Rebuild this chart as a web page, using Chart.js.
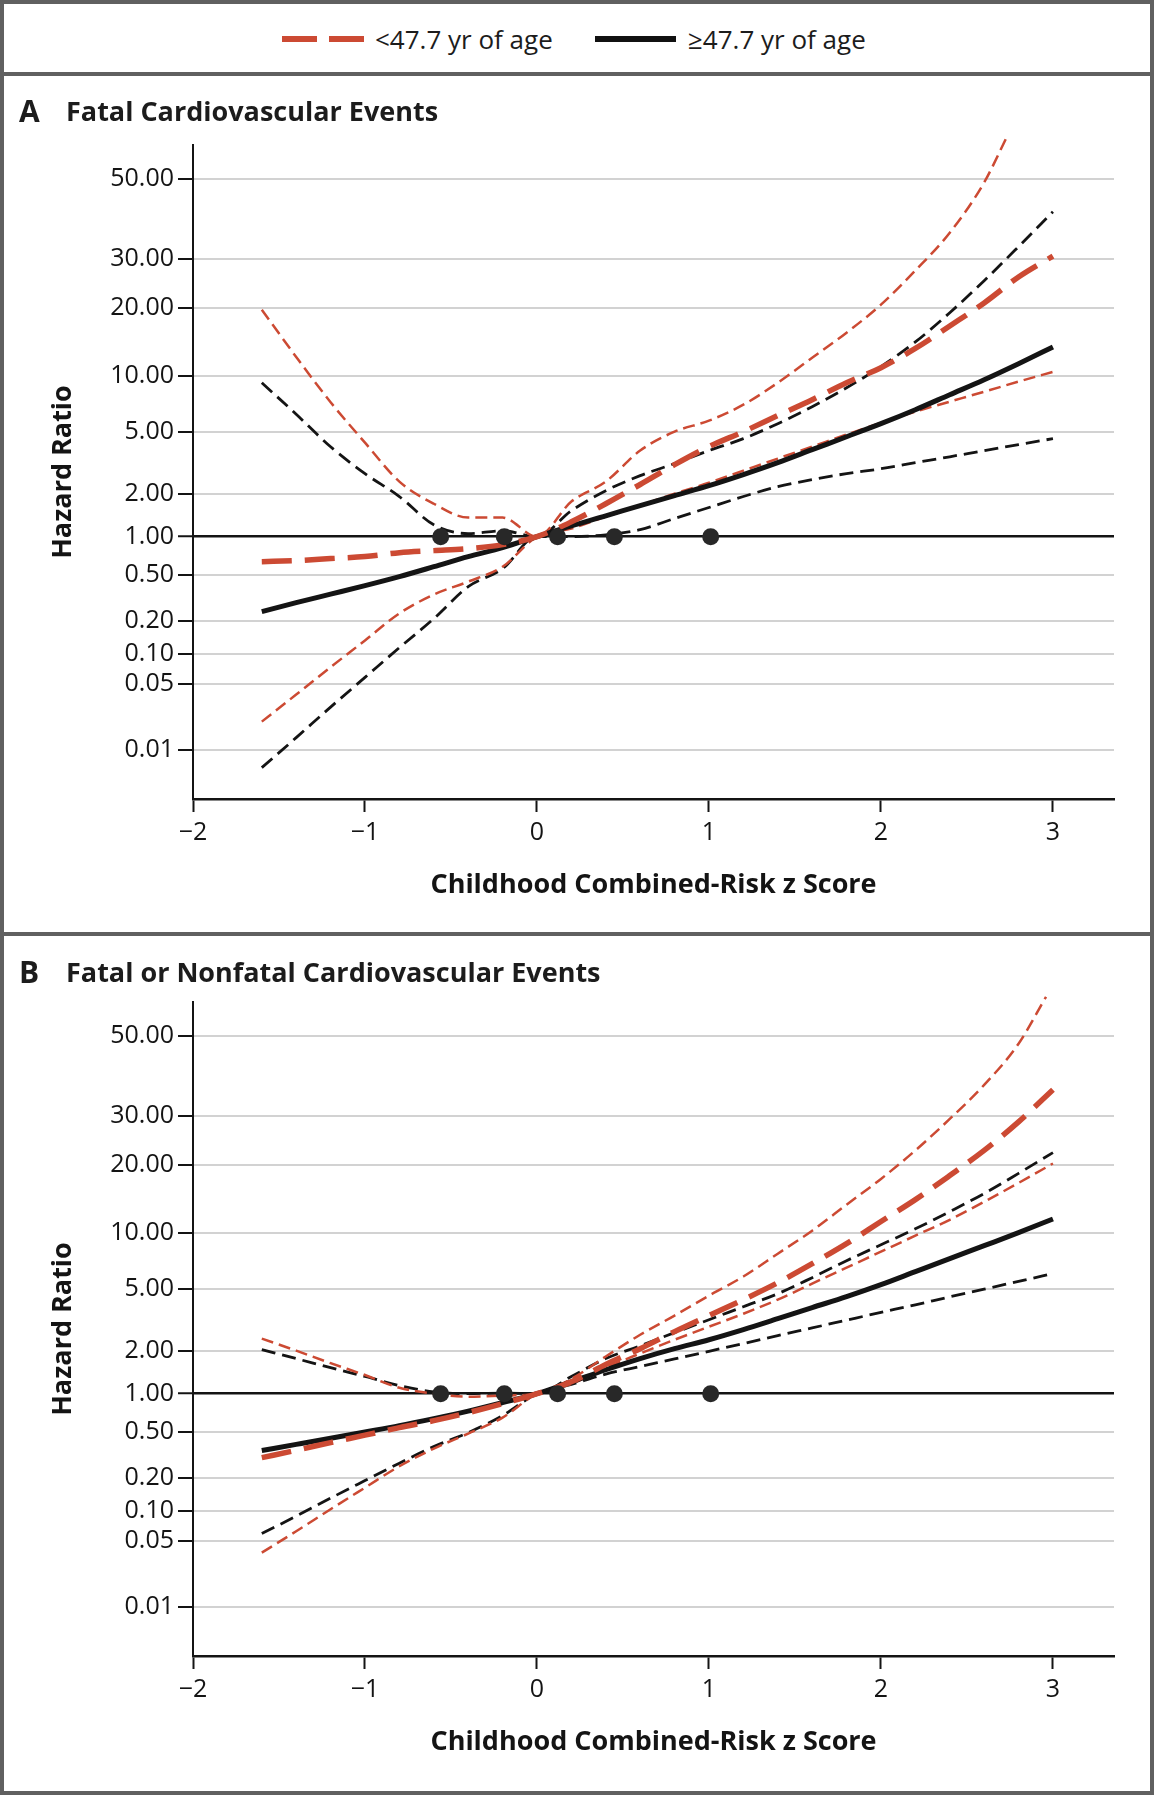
<!DOCTYPE html>
<html>
<head>
<meta charset="utf-8">
<script src="https://cdn.jsdelivr.net/npm/chart.js@4.4.1/dist/chart.umd.min.js"></script>
<style>
  html, body { margin: 0; padding: 0; background: #fff; }
  #figure { position: relative; width: 1154px; height: 1795px; background: #fff; overflow: hidden;
            font-family: 'Open Sans', sans-serif; color: #1c1c1c; }
  .frame { position: absolute; left: 0; width: 1154px; box-sizing: border-box; border: 4px solid #606060; }
  .key { position: absolute; top: 35px; }
  .key-text { position: absolute; top: 24px; font-size: 26px; line-height: 30px; white-space: nowrap; }
  .panel-letter { position: absolute; left: 19px; font-size: 30px; line-height: 32px; font-weight: 700; }
  .panel-title { position: absolute; left: 66px; font-size: 27px; line-height: 32px; font-weight: 700; white-space: nowrap; }
  canvas { position: absolute; left: 0; }
</style>
</head>
<body>
<div id="figure">
  <canvas id="panel_a" width="1154" height="856" style="top:76px"></canvas>
  <canvas id="panel_b" width="1154" height="856" style="top:933px"></canvas>

  <div class="frame" style="top:0; height:76px"></div>
  <div class="frame" style="top:72px; height:864px"></div>
  <div class="frame" style="top:932px; height:863px"></div>

  <svg class="key" style="left:282px" width="82" height="8">
    <line x1="0" y1="4" x2="82" y2="4" stroke="#cc4a33" stroke-width="6" stroke-dasharray="35 12"></line>
  </svg>
  <span class="key-text" style="left:375px">&lt;47.7 yr of age</span>
  <svg class="key" style="left:595px" width="81" height="8">
    <line x1="0" y1="4" x2="81" y2="4" stroke="#111" stroke-width="6"></line>
  </svg>
  <span class="key-text" style="left:688px">≥47.7 yr of age</span>

  <span class="panel-letter" style="top:95px">A</span>
  <span class="panel-title" style="top:95px">Fatal Cardiovascular Events</span>
  <span class="panel-letter" style="top:956px">B</span>
  <span class="panel-title" style="top:956px">Fatal or Nonfatal Cardiovascular Events</span>
</div>

<script>
// hazard-ratio axis, as printed (ticks are unevenly spaced)
const hrTickValues = [0.01, 0.05, 0.1, 0.2, 0.5, 1, 2, 5, 10, 20, 30, 50];
const hrTickLabels = ['0.01', '0.05', '0.10', '0.20', '0.50', '1.00', '2.00', '5.00', '10.00', '20.00', '30.00', '50.00'];
const hrTickSpacing = [-213, -147, -117, -84, -38, 0, 43, 105, 161, 229, 278, 358];

const zTicks = [-2, -1, 0, 1, 2, 3];
const zTickLabels = ['\u22122', '\u22121', '0', '1', '2', '3'];

const zGrid = [-1.6, -1.4, -1.2, -1.0, -0.8, -0.6, -0.4, -0.2, 0, 0.2, 0.4, 0.6, 0.8, 1.0,
  1.2, 1.4, 1.6, 1.8, 2.0, 2.2, 2.4, 2.6, 2.8, 3.0];

// knots marked on the 1.00 line
const knotZ = [-0.56, -0.19, 0.12, 0.45, 1.01];

// Panel A, fatal events
const youngA = [0.634, 0.646, 0.67, 0.695, 0.747, 0.775, 0.804, 0.865, 1.0, 1.27, 1.70, 2.29, 3.07, 4.01,
  5.0, 6.10, 7.43, 9.16, 10.85, 13.2, 16.6, 20.8, 25.8, 30.5];
const youngLowA = [0.0198, 0.0383, 0.0732, 0.132, 0.231, 0.336, 0.435, 0.578, 1.0, 1.14, 1.38, 1.65, 2.0, 2.35,
  2.81, 3.36, 4.01, 4.79, 5.58, 6.41, 7.25, 8.2, 9.29, 10.4];
const youngHighZA = [-1.6, -1.4, -1.2, -1.0, -0.8, -0.6, -0.4, -0.2, 0, 0.2, 0.4, 0.6, 0.8, 1.0,
  1.2, 1.4, 1.6, 1.8, 2.0, 2.2, 2.4, 2.6, 2.73];
const youngHighA = [19.6, 12.1, 7.2, 4.25, 2.39, 1.7, 1.36, 1.36, 1.0, 1.76, 2.39, 3.78, 5.0, 5.73,
  6.98, 9.16, 12.0, 15.5, 20.5, 27.2, 35.4, 48.8, 65];
const oldA = [0.239, 0.286, 0.339, 0.402, 0.481, 0.578, 0.695, 0.818, 1.0, 1.19, 1.40, 1.65, 1.94, 2.25,
  2.65, 3.16, 3.83, 4.64, 5.52, 6.56, 7.90, 9.51, 11.3, 13.4];
const oldLowA = [0.00644, 0.0134, 0.0282, 0.0578, 0.1135, 0.208, 0.394, 0.558, 1.0, 1.0, 1.03, 1.12, 1.34, 1.60,
  1.91, 2.22, 2.46, 2.69, 2.89, 3.16, 3.45, 3.78, 4.13, 4.51];
const oldHighA = [9.16, 6.2, 4.0, 2.69, 1.91, 1.21, 1.05, 1.10, 1.0, 1.52, 2.09, 2.61, 3.12, 3.78,
  4.51, 5.52, 6.81, 8.61, 10.96, 14.1, 19.0, 25.0, 32.4, 40.5];

// Panel B, fatal or nonfatal events
const youngB = [0.298, 0.345, 0.402, 0.466, 0.538, 0.611, 0.707, 0.833, 1.0, 1.21, 1.60, 2.06, 2.65, 3.36,
  4.25, 5.38, 6.81, 8.73, 11.2, 14.0, 17.9, 22.5, 28.5, 35.4];
const youngLowB = [0.0373, 0.0621, 0.103, 0.162, 0.251, 0.357, 0.481, 0.646, 1.0, 1.17, 1.52, 1.91, 2.35, 2.85,
  3.45, 4.25, 5.32, 6.49, 7.90, 9.64, 11.4, 13.7, 16.6, 20.2];
const youngHighZB = [-1.6, -1.4, -1.2, -1.0, -0.8, -0.6, -0.4, -0.2, 0, 0.2, 0.4, 0.6, 0.8, 1.0,
  1.2, 1.4, 1.6, 1.8, 2.0, 2.2, 2.4, 2.6, 2.8, 2.96];
const youngHighB = [2.39, 2.0, 1.635, 1.35, 1.10, 1.0, 0.947, 0.964, 1.0, 1.27, 1.82, 2.53, 3.36, 4.51,
  5.81, 7.71, 10.2, 13.3, 17.3, 22.5, 29.2, 36.5, 47.5, 64.1];
const oldB = [0.343, 0.388, 0.439, 0.497, 0.558, 0.634, 0.727, 0.849, 1.0, 1.21, 1.47, 1.76, 2.06, 2.35,
  2.73, 3.21, 3.78, 4.44, 5.25, 6.17, 7.25, 8.51, 10.0, 11.5];
const oldLowB = [0.0588, 0.0881, 0.130, 0.188, 0.267, 0.371, 0.490, 0.670, 1.0, 1.16, 1.37, 1.55, 1.75, 1.98,
  2.22, 2.5, 2.8, 3.14, 3.52, 3.94, 4.43, 4.96, 5.47, 6.02];
const oldHighB = [2.03, 1.76, 1.52, 1.32, 1.14, 1.03, 1.0, 1.01, 1.0, 1.32, 1.76, 2.15, 2.61, 3.16,
  3.83, 4.64, 5.73, 7.07, 8.61, 10.4, 12.4, 14.9, 18.3, 22.1];

const RED = '#cc4a33';
const INK = '#141414';
const FONT = 'Open Sans';

const tickLogs = hrTickValues.map((v) => Math.log10(v));

const to_axis = (hr) => {
  const lg = Math.log10(hr);
  let i = 0;
  while (i < tickLogs.length - 2 && lg > tickLogs[i + 1]) i++;
  const t = (lg - tickLogs[i]) / (tickLogs[i + 1] - tickLogs[i]);
  return hrTickSpacing[i] + t * (hrTickSpacing[i + 1] - hrTickSpacing[i]);
};

const from_axis = (u) => {
  let i = 0;
  while (i < hrTickSpacing.length - 2 && u > hrTickSpacing[i + 1]) i++;
  const t = (u - hrTickSpacing[i]) / (hrTickSpacing[i + 1] - hrTickSpacing[i]);
  return Math.pow(10, tickLogs[i] + t * (tickLogs[i + 1] - tickLogs[i]));
};

// linear scale that follows the printed, uneven hazard-ratio axis
class HazardScale extends Chart.LinearScale {
  determineDataLimits() {
    this.min = to_axis(this.options.min);
    this.max = to_axis(this.options.max);
  }
  buildTicks() {
    return hrTickValues.map((v) => ({ value: v }));
  }
  getPixelForValue(value) {
    return super.getPixelForValue(to_axis(value));
  }
  getValueForPixel(pixel) {
    return from_axis(super.getValueForPixel(pixel));
  }
  getBasePixel() {
    return this.bottom;
  }
}
HazardScale.id = 'hazard';
HazardScale.defaults = Chart.LinearScale.defaults;
Chart.register(HazardScale);

const pairs = (xs, ys) => xs.map((x, i) => ({ x: x, y: ys[i] }));

const build_panel = (canvas_id, s) => {
  const line = (data, color, width, dash) => ({
    data: data,
    borderColor: color,
    borderWidth: width,
    borderDash: dash,
    pointRadius: 0,
    fill: false,
    cubicInterpolationMode: 'monotone',
    clip: false
  });

  const datasets = [
    {
      data: knotZ.map((z) => ({ x: z, y: 1 })),
      showLine: false,
      pointRadius: 8.5,
      pointBackgroundColor: '#282828',
      pointBorderWidth: 0
    },
    line(pairs(zGrid, s.young), RED, 5.5, [30, 13]),
    line(pairs(zGrid, s.old), INK, 5, []),
    line(pairs(s.youngHighZ, s.youngHigh), RED, 2.5, [12, 6]),
    line(pairs(zGrid, s.youngLow), RED, 2.5, [12, 6]),
    line(pairs(zGrid, s.oldHigh), INK, 2.8, [14, 7]),
    line(pairs(zGrid, s.oldLow), INK, 2.8, [14, 7])
  ];

  const config = {
    type: 'line',
    data: { datasets: datasets },
    options: {
      responsive: false,
      animation: false,
      events: [],
      layout: { padding: { left: 0, right: 40, top: 69, bottom: 0 } },
      plugins: { legend: { display: false }, tooltip: { enabled: false } },
      scales: {
        x: {
          type: 'linear',
          min: -2,
          max: 3.355,
          afterBuildTicks: (scale) => {
            scale.ticks = zTicks.map((v) => ({ value: v }));
          },
          afterFit: (scale) => {
            scale.height = 133;
          },
          border: { color: INK, width: 2.5 },
          grid: { drawOnChartArea: false, tickLength: 13, tickColor: INK, tickWidth: 2 },
          ticks: {
            autoSkip: false,
            maxRotation: 0,
            padding: 6,
            color: INK,
            font: { family: FONT, size: 25 },
            callback: (value, index) => zTickLabels[index]
          },
          title: {
            display: true,
            text: 'Childhood Combined-Risk z Score',
            color: INK,
            font: { family: FONT, size: 27, weight: 'bold' },
            padding: { top: 0, bottom: 30 }
          }
        },
        y: {
          type: 'hazard',
          min: 0.003,
          max: 62,
          afterFit: (scale) => {
            scale.width = 193;
          },
          border: { color: INK, width: 2 },
          grid: {
            color: (ctx) => (ctx.tick && ctx.tick.value === 1 ? INK : '#d2d2d2'),
            lineWidth: (ctx) => (ctx.tick && ctx.tick.value === 1 ? 2.5 : 2),
            tickLength: 15,
            tickColor: INK,
            tickWidth: 2
          },
          ticks: {
            autoSkip: false,
            padding: 4,
            color: INK,
            font: { family: FONT, size: 25 },
            callback: (value, index) => hrTickLabels[index]
          },
          title: {
            display: true,
            text: 'Hazard Ratio',
            color: INK,
            font: { family: FONT, size: 27, weight: 'bold' },
            padding: { top: 47, bottom: 0 }
          }
        }
      }
    }
  };

  return new Chart(document.getElementById(canvas_id), config);
};

build_panel('panel_a', {
  young: youngA, youngLow: youngLowA, youngHighZ: youngHighZA, youngHigh: youngHighA,
  old: oldA, oldLow: oldLowA, oldHigh: oldHighA
});

build_panel('panel_b', {
  young: youngB, youngLow: youngLowB, youngHighZ: youngHighZB, youngHigh: youngHighB,
  old: oldB, oldLow: oldLowB, oldHigh: oldHighB
});
</script>
</body>
</html>
